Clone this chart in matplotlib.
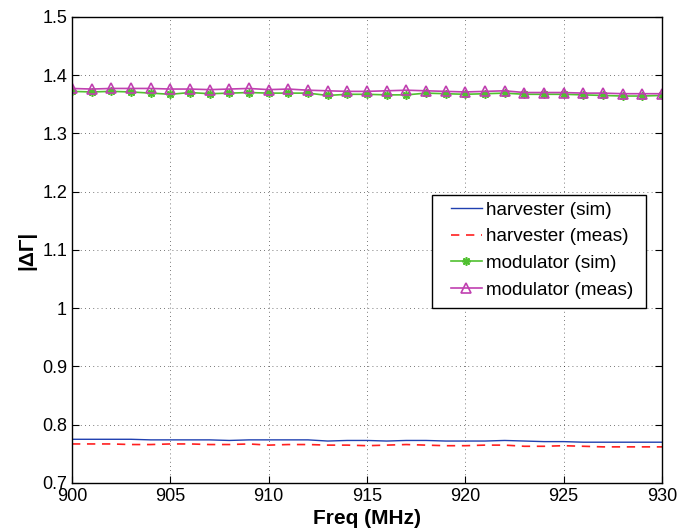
import matplotlib
matplotlib.use("Agg")
import matplotlib.pyplot as plt
from matplotlib.patches import Rectangle
import numpy as np

plt.rcParams['font.family'] = ['Liberation Sans', 'DejaVu Sans']

freq = list(range(900, 931))
harv_sim = [0.775, 0.775, 0.775, 0.775, 0.774, 0.774, 0.774, 0.774, 0.773, 0.774, 0.774, 0.774, 0.774, 0.772, 0.773, 0.773,
            0.772, 0.773, 0.773, 0.772, 0.772, 0.772, 0.773, 0.772, 0.771, 0.771, 0.770, 0.770, 0.770, 0.770, 0.770]
harv_meas = [0.767, 0.767, 0.767, 0.766, 0.766, 0.767, 0.767, 0.766, 0.766, 0.767, 0.765, 0.766, 0.766, 0.765, 0.765, 0.764,
             0.765, 0.766, 0.765, 0.764, 0.764, 0.765, 0.765, 0.763, 0.763, 0.764, 0.763, 0.762, 0.762, 0.762, 0.762]
mod_sim = [1.372, 1.371, 1.372, 1.371, 1.369, 1.367, 1.370, 1.368, 1.369, 1.370, 1.369, 1.369, 1.369, 1.365, 1.367, 1.367,
           1.366, 1.366, 1.369, 1.368, 1.367, 1.368, 1.369, 1.367, 1.367, 1.367, 1.366, 1.365, 1.364, 1.364, 1.365]
mod_meas = [1.377, 1.376, 1.377, 1.377, 1.377, 1.376, 1.376, 1.375, 1.376, 1.377, 1.375, 1.376, 1.374, 1.373, 1.372, 1.372,
            1.373, 1.374, 1.373, 1.372, 1.371, 1.372, 1.373, 1.370, 1.370, 1.370, 1.369, 1.369, 1.368, 1.368, 1.368]

fig = plt.figure(figsize=(6.79, 5.31), dpi=100)
ax = fig.add_axes([0.106, 0.0904, 0.869, 0.878])

ax.plot(freq, harv_sim, color='#2040b0', lw=1.0, label='harvester (sim)')
ax.plot(freq, harv_meas, color='#ff2020', lw=1.2, ls=(0, (5, 4)), label='harvester (meas)')
ax.plot(freq, mod_sim, color='#50c030', lw=1.2, marker=(8, 2, 0), ms=6, mew=1.2, label='modulator (sim)')
ax.plot(freq, mod_meas, color='#c040b0', lw=1.2, marker='^', ms=7.5, mfc='none', mew=1.2, label='modulator (meas)')

ax.set_xlim(900, 930)
ax.set_ylim(0.7, 1.5)
ax.set_xticks(range(900, 931, 5))
ax.set_yticks(np.round(np.arange(0.7, 1.501, 0.1), 1))
ax.set_yticklabels(['0.7', '0.8', '0.9', '1', '1.1', '1.2', '1.3', '1.4', '1.5'])
ax.grid(True, color='black', ls=(0, (1, 4)), lw=0.6, alpha=0.7)
ax.tick_params(direction='in', labelsize=13, length=5, top=False, right=True)
for s in ax.spines.values():
    s.set_linewidth(1.0)
ax.set_xlabel('Freq (MHz)', fontsize=15, fontweight='bold', labelpad=3)
ax.set_ylabel('|ΔΓ|', fontsize=15, fontweight='bold', labelpad=4)

# legend frame (MATLAB-style box with wide side margins)
frame = Rectangle((0.610, 0.3755), 0.363, 0.2425, transform=ax.transAxes, facecolor='white',
                  edgecolor='black', lw=1.0, zorder=4.9)
ax.add_patch(frame)

leg = ax.legend(loc='upper left', bbox_to_anchor=(0.643, 0.604), fontsize=13.6, frameon=False,
                borderpad=0, labelspacing=0.5, handlelength=1.6,
                handletextpad=0.25, borderaxespad=0)
leg.set_zorder(5)

fig.savefig('out.png', dpi=100)
